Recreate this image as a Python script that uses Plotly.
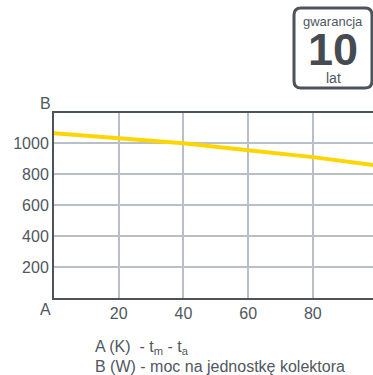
import plotly.graph_objects as go

# Data
temp_diff = [0, 20, 40, 60, 80, 100]
power = [1065, 1035, 1000, 955, 910, 855]
x_ticks = [20, 40, 60, 80]
y_ticks = [200, 400, 600, 800, 1000]

W, H = 373, 375
L, R, T, B = 54, 0, 113, 77
pw, ph = W - L - R, H - T - B

def px(x):
    return (x - L) / pw

def py(y):
    return (H - B - y) / ph

text_col = "#50575e"
axis_col = "#4d5359"
grid_col = "#b8bfc6"
font = "Liberation Sans, Arial, sans-serif"

fig = go.Figure()
fig.add_trace(go.Scatter(
    x=temp_diff, y=power, mode="lines",
    line=dict(color="#ffd500", width=4),
    hoverinfo="skip", showlegend=False,
))

fig.update_layout(
    width=W, height=H,
    margin=dict(l=L, r=R, t=T, b=B),
    paper_bgcolor="white", plot_bgcolor="white",
    font=dict(family=font, color=text_col, size=16),
    xaxis=dict(range=[0, 98.6], tickvals=x_ticks, showgrid=True, gridcolor=grid_col,
               gridwidth=2, showline=True, linecolor=axis_col, linewidth=2, mirror=True,
               zeroline=False, ticks="", tickfont=dict(size=16, color=text_col)),
    yaxis=dict(range=[0, 1195], tickvals=y_ticks, showgrid=True, gridcolor=grid_col,
               gridwidth=2, showline=True, linecolor=axis_col, linewidth=2, mirror=False,
               zeroline=False, ticks="", tickfont=dict(size=16, color=text_col)),
)

# Badge (rounded rectangle)
x0, x1, y0, y1, r = 294, 372, 8, 88, 7
path = (f"M {px(x0+r)},{py(y0)} L {px(x1-r)},{py(y0)} Q {px(x1)},{py(y0)} {px(x1)},{py(y0+r)} "
        f"L {px(x1)},{py(y1-r)} Q {px(x1)},{py(y1)} {px(x1-r)},{py(y1)} "
        f"L {px(x0+r)},{py(y1)} Q {px(x0)},{py(y1)} {px(x0)},{py(y1-r)} "
        f"L {px(x0)},{py(y0+r)} Q {px(x0)},{py(y0)} {px(x0+r)},{py(y0)} Z")
fig.add_shape(type="path", path=path, xref="paper", yref="paper",
              line=dict(color=axis_col, width=3), fillcolor="white")

def ann(text, x, y, size, xanchor="center", bold=False, color=text_col, height=None):
    fig.add_annotation(text=f"<b>{text}</b>" if bold else text, x=px(x), y=py(y),
                       xref="paper", yref="paper", showarrow=False,
                       xanchor=xanchor, yanchor="middle", height=height,
                       font=dict(size=size, color=color, family=font))

ann("gwarancja", 333, 21, 13, height=15)
ann("10", 333, 49, 45, bold=True, color="#454b51", height=36)
ann("lat", 333, 78, 14, height=16)
ann("B", 45, 103, 16)
ann("A", 45, 309, 16)
ann("A (K)  - t<sub>m</sub> - t<sub>a</sub>", 93, 347, 16, xanchor="left")
ann("B (W) - moc na jednostkę kolektora", 93, 366, 16, xanchor="left")

fig.write_html("out.html", config={"displayModeBar": False},
               post_script="document.body.style.margin='0';document.body.style.overflow='hidden';")
